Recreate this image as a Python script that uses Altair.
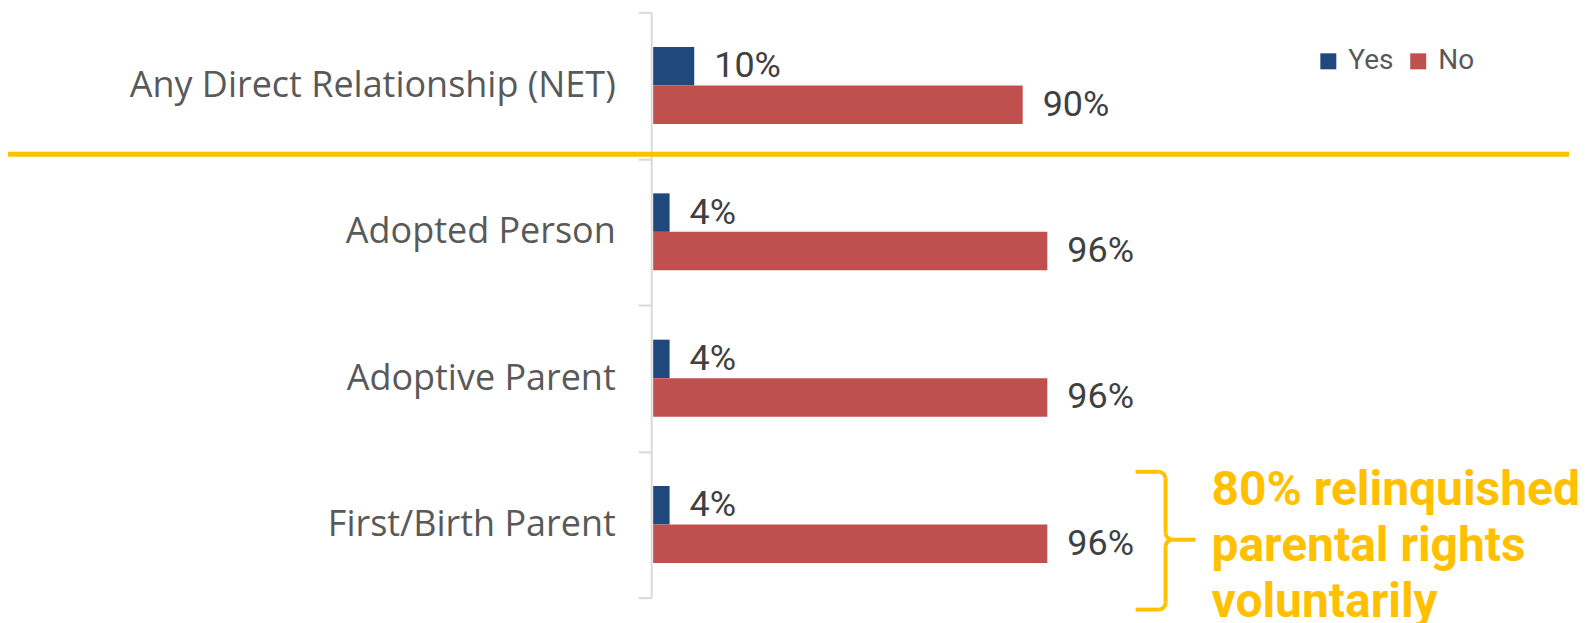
import math
import altair as alt
import pandas as pd

categories = ["Any Direct Relationship (NET)", "Adopted Person", "Adoptive Parent", "First/Birth Parent"]
yes_values = [0.10, 0.04, 0.04, 0.04]
no_values = [0.90, 0.96, 0.96, 0.96]
series = ["Yes", "No"]
colors = ["#1F497D", "#C0504D"]
annotation_lines = ["80% relinquished", "parental rights", "voluntarily"]

rows = []
for c, yv, nv in zip(categories, yes_values, no_values):
    rows.append({"category": c, "series": "Yes", "value": yv})
    rows.append({"category": c, "series": "No", "value": nv})
df = pd.DataFrame(rows)
df["label"] = (df["value"] * 100).round().astype(int).astype(str) + "%"

FONT = "Roboto"
LABEL_FONT = "Open Sans"
GOLD = "#FFC000"

y_enc = alt.Y(
    "category:N", sort=categories,
    scale=alt.Scale(paddingInner=0, paddingOuter=0),
    axis=alt.Axis(title=None, labelFont=LABEL_FONT, labelFontSize=36, labelColor="#595959",
                  labelPadding=23, tickBand="extent", tickSize=13, tickWidth=2,
                  tickColor="#D9D9D9", domainColor="#D9D9D9", domainWidth=2,
                  offset=2, labelLimit=0),
)
yoff = alt.YOffset("series:N", sort=series, scale=alt.Scale(paddingInner=0, paddingOuter=0.9))
x_enc = alt.X("value:Q", scale=alt.Scale(domain=[0, 2.238], nice=False, zero=True), axis=None)

bars = alt.Chart(df).mark_bar().encode(
    y=y_enc, yOffset=yoff, x=x_enc,
    color=alt.Color(
        "series:N", sort=series,
        scale=alt.Scale(domain=series, range=colors),
        legend=alt.Legend(title=None, orient="none", legendX=662, legendY=35,
                          direction="horizontal", symbolType="square", symbolSize=256,
                          symbolStrokeWidth=0, labelFont=FONT, labelFontSize=28,
                          labelColor="#595959", labelOffset=6, columnPadding=10),
    ),
)

labels = alt.Chart(df).mark_text(
    align="left", baseline="middle", dx=20, font=FONT, fontSize=36, color="#404040"
).encode(
    y=alt.Y("category:N", sort=categories),
    yOffset=alt.YOffset("series:N", sort=series),
    x=alt.X("value:Q"),
    text="label:N",
)

one = pd.DataFrame({"a": [0]})

sep = alt.Chart(one).mark_rule(color=GOLD, strokeWidth=5).encode(
    x=alt.value(-646), x2=alt.value(917), y=alt.value(142)
)

def hrule(x1, x2, y):
    return alt.Chart(one).mark_rule(color=GOLD, strokeWidth=4).encode(
        x=alt.value(x1), x2=alt.value(x2), y=alt.value(y))

def vrule(x, y1, y2):
    return alt.Chart(one).mark_rule(color=GOLD, strokeWidth=4).encode(
        x=alt.value(x), y=alt.value(y1), y2=alt.value(y2))

def corner(cx, cy, t1, t2):
    return alt.Chart(one).mark_arc(color=GOLD, radius=9, radius2=5, theta=t1, theta2=t2).encode(
        x=alt.value(cx), y=alt.value(cy))

P = math.pi
bracket = [
    hrule(483, 506, 460),
    vrule(513, 467, 521),
    hrule(520, 543, 528),
    vrule(513, 535, 591),
    hrule(483, 506, 598),
    corner(506, 467, 0, P / 2),
    corner(520, 521, P, 3 * P / 2),
    corner(520, 535, 3 * P / 2, 2 * P),
    corner(506, 591, P / 2, P),
]

note = alt.Chart(one).mark_text(
    text=annotation_lines, align="left", baseline="alphabetic", font=FONT,
    fontSize=48, fontWeight="bold", color=GOLD, lineHeight=56,
).encode(x=alt.value(559), y=alt.value(493))

chart = alt.layer(bars, labels, sep, *bracket, note).properties(
    width=920, height=586,
    autosize=alt.AutoSizeParams(type="none"),
    padding={"left": 646, "top": 4, "right": 14, "bottom": 25},
    background="white",
).configure_view(stroke=None)

chart.save("out.html", embed_options={"renderer": "svg", "actions": False})
